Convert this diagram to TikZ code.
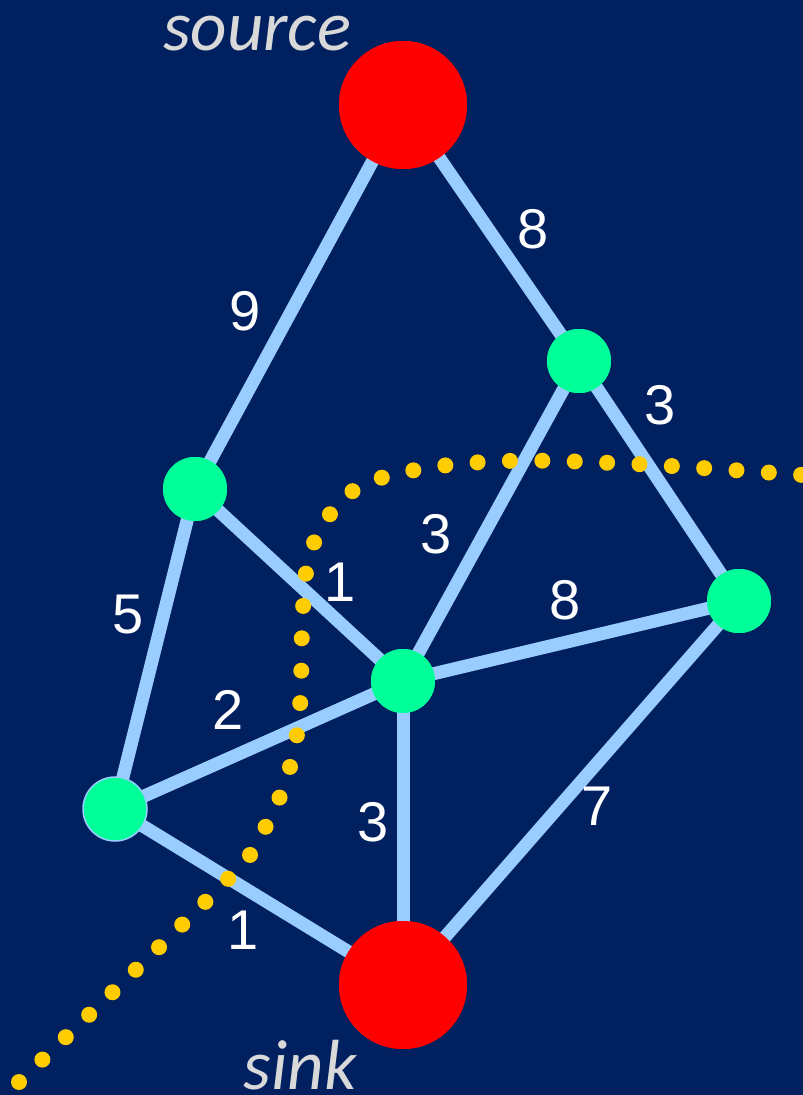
\documentclass[tikz,border=0pt]{standalone}
\usepackage{fontspec}
\setmainfont{Liberation Sans}
\newfontfamily\labelfont{Carlito}
\definecolor{bg}{HTML}{002060}
\definecolor{edgec}{HTML}{99CCFF}
\definecolor{greenn}{HTML}{00FF99}
\definecolor{dotc}{HTML}{FFCC00}
\definecolor{txtg}{HTML}{D9D9D9}
\begin{document}
\begin{tikzpicture}[x=1pt,y=-1pt,
  edge/.style={draw=edgec,line width=13pt},
  bignode/.style={circle,fill=red,minimum size=128pt,inner sep=0pt},
  smallnode/.style={circle,fill=greenn,minimum size=64pt,inner sep=0pt},
  wlabel/.style={text=white,font=\fontsize{56}{56}\selectfont,inner sep=0pt},
  namelabel/.style={text=txtg,font=\labelfont\itshape\fontsize{71}{71}\selectfont,inner sep=0pt,anchor=base},
  cut/.style={draw=dotc,line width=16pt,line cap=round,dash pattern=on 0pt off 32.4pt}]
\fill[bg] (0,0) rectangle (803,1095);
\useasboundingbox (0,0) rectangle (803,1095);
\node[bignode] (s) at (403,105) {};
\node[bignode] (t) at (403,985) {};
\node[smallnode] (a) at (579,361) {};
\node[smallnode] (b) at (195,489) {};
\node[smallnode] (c) at (739,601) {};
\node[smallnode] (d) at (403,681) {};
\node[smallnode] (e) at (115,809) {};
% edges
\draw[edge] (s.center) -- (b.center);
\draw[edge] (s.center) -- (a.center);
\draw[edge] (a.center) -- (c.center);
\draw[edge] (a.center) -- (d.center);
\draw[edge] (b.center) -- (d.center);
\draw[edge] (b.center) -- (e.center);
\draw[edge] (d.center) -- (c.center);
\draw[edge] (d.center) -- (e.center);
\draw[edge] (d.center) -- (t.center);
\draw[edge] (c.center) -- (t.center);
\draw[edge] (e.center) -- (t.center);
% cut
\draw[cut] plot[smooth,tension=0.6] coordinates {(19,1082) (227,880) (266,826) (290,767) (300,706) (303,608) (313,545) (350,493) (410,471) (506,461) (635,464) (803,475)};
% nodes on top
\node[bignode] at (s) {};
\node[bignode] at (t) {};
\node[smallnode] at (a) {};
\node[smallnode] at (b) {};
\node[smallnode] at (c) {};
\node[smallnode] at (d) {};
\node[smallnode,draw=edgec,line width=1.5pt] at (e) {};
% labels
\node[wlabel] (l1) at (245,311) {9};
\node[wlabel] (l2) at (533,229) {8};
\node[wlabel] (l3) at (660,405) {3};
\node[wlabel] (l4) at (436,534) {3};
\node[wlabel] (l5) at (340,582) {1};
\node[wlabel] (l6) at (565,600) {8};
\node[wlabel] (l7) at (128,615) {5};
\node[wlabel] (l8) at (228,710) {2};
\node[wlabel] (l9) at (373,822) {3};
\node[wlabel] (l10) at (597,806) {7};
\node[wlabel] (l11) at (243,930) {1};
\node[namelabel] (src) at (257,50) {source};
\node[namelabel] (snk) at (300,1089) {sink};
\end{tikzpicture}
\end{document}
